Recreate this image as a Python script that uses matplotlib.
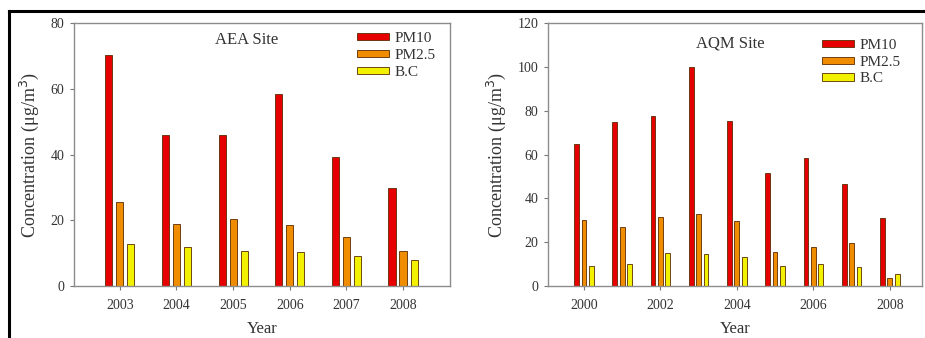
import numpy as np
import matplotlib.pyplot as plt
from matplotlib.lines import Line2D

plt.rcParams["font.family"] = ["Liberation Serif", "DejaVu Serif"]
plt.rcParams["text.color"] = "#333333"
plt.rcParams["axes.labelcolor"] = "#333333"
plt.rcParams["xtick.color"] = "#777777"
plt.rcParams["ytick.color"] = "#777777"
plt.rcParams["xtick.labelcolor"] = "#333333"
plt.rcParams["ytick.labelcolor"] = "#333333"

# AEA site
aea_years = [2003, 2004, 2005, 2006, 2007, 2008]
aea_pm10 = [70.3, 45.8, 45.8, 58.4, 39.3, 29.9]
aea_pm25 = [25.5, 18.9, 20.5, 18.7, 14.8, 10.8]
aea_bc = [12.9, 11.8, 10.8, 10.3, 9.1, 7.9]

# AQM site
aqm_years = [2000, 2001, 2002, 2003, 2004, 2005, 2006, 2007, 2008]
aqm_pm10 = [64.8, 75.0, 77.8, 99.8, 75.3, 51.4, 58.5, 46.6, 31.1]
aqm_pm25 = [30.3, 27.1, 31.7, 32.8, 29.7, 15.7, 17.8, 19.5, 3.5]
aqm_bc = [9.0, 9.9, 15.2, 14.8, 13.1, 9.3, 9.9, 8.7, 5.6]

series_names = ["PM10", "PM2.5", "B.C"]
colors = ["#e60000", "#f08c00", "#f2f200"]

fig = plt.figure(figsize=(9.25, 3.38), dpi=100)


def panel(rect, years, data, ymax, yticks, xticks, xlim, site, title_xy, leg_xy, ylab_x):
    ax = fig.add_axes(rect)
    x = np.array(years, dtype=float)
    w = 0.125
    off = 0.195
    for k, (vals, c, name) in enumerate(zip(data, colors, series_names)):
        ax.bar(x + (k - 1) * off, vals, width=w, color=c, edgecolor="#5a2a00",
               linewidth=0.6, label=name)
    ax.set_xlim(*xlim)
    ax.set_ylim(0, ymax)
    ax.set_yticks(yticks)
    ax.set_xticks(xticks)
    ax.set_xticklabels([str(t) for t in xticks])
    for s in ax.spines.values():
        s.set_color("#8c8c8c")
        s.set_linewidth(1.0)
    ax.tick_params(axis="both", direction="out", length=3, width=0.8, labelsize=10)
    ax.tick_params(axis="y", pad=4)
    ax.tick_params(axis="x", pad=6)
    ax.set_ylabel("Concentration (μg/m$^3$)", fontsize=13)
    ax.yaxis.set_label_coords(ylab_x, 0.5)
    ax.set_xlabel("Year", fontsize=12, va="center")
    ax.xaxis.set_label_coords(0.5, -0.165)
    ax.text(title_xy[0], title_xy[1], site, transform=ax.transAxes,
            ha="center", va="center", fontsize=12)
    ax.legend(loc="upper left", bbox_to_anchor=leg_xy, frameon=False,
              fontsize=11, handlelength=2.1, handleheight=0.35,
              handletextpad=0.35, labelspacing=0.25, borderpad=0,
              borderaxespad=0)
    return ax


panel([0.080, 0.1538, 0.4065, 0.778], aea_years, [aea_pm10, aea_pm25, aea_bc],
      80, [0, 20, 40, 60, 80], aea_years, (2003 - 0.81, 2008 + 0.83),
      "AEA Site", (0.46, 0.935), (0.753, 0.965), -0.088)

panel([0.5924, 0.1538, 0.4043, 0.778], aqm_years, [aqm_pm10, aqm_pm25, aqm_bc],
      120, [0, 20, 40, 60, 80, 100, 120], [2000, 2002, 2004, 2006, 2008],
      (2000 - 0.94, 2008 + 0.84),
      "AQM Site", (0.487, 0.924), (0.733, 0.94), -0.107)

# black frame around the figure (top and left edges)
fig.add_artist(Line2D([8.5 / 925, 1.0], [1 - 10.5 / 338, 1 - 10.5 / 338],
                      transform=fig.transFigure, color="black", linewidth=2.2))
fig.add_artist(Line2D([8.5 / 925, 8.5 / 925], [0.0, 1 - 10.5 / 338],
                      transform=fig.transFigure, color="black", linewidth=2.2))

fig.savefig("out.png", dpi=100, facecolor="white")
